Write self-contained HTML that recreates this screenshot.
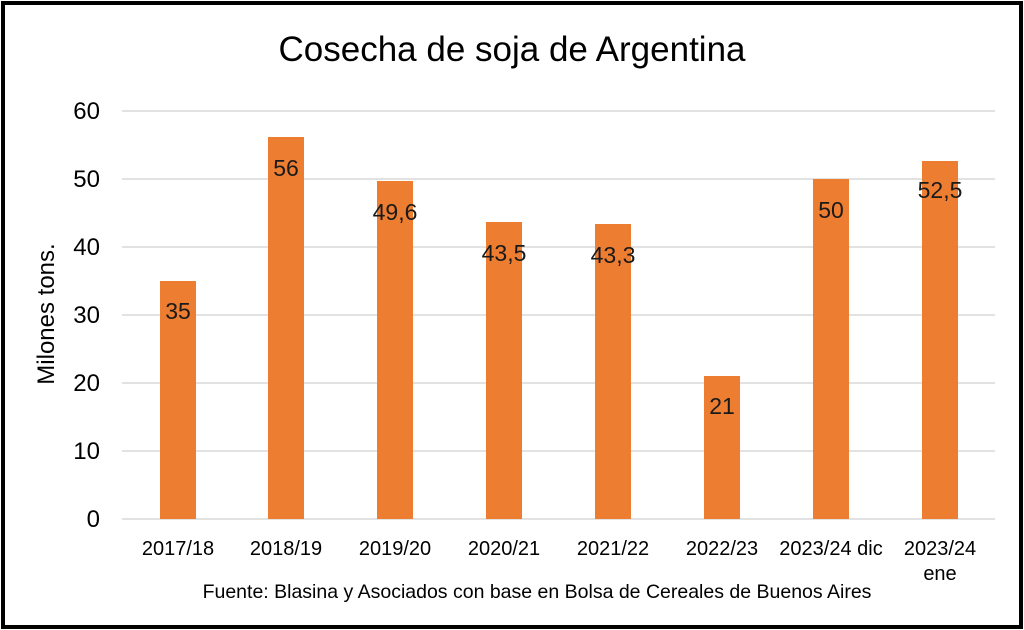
<!DOCTYPE html>
<html><head><style>
html,body{margin:0;padding:0;background:#fff;}
svg{display:block;font-family:"Liberation Sans","DejaVu Sans",sans-serif;}
</style></head><body>
<svg width="1024" height="630" viewBox="0 0 1024 630" xmlns="http://www.w3.org/2000/svg">
<rect x="0" y="0" width="1024" height="630" fill="#fff"/>
<rect x="3" y="3" width="1018" height="624" fill="none" stroke="#000" stroke-width="4"/>
<text x="512" y="61" font-size="35" text-anchor="middle" fill="#000">Cosecha de soja de Argentina</text>
<g stroke="#d9d9d9" stroke-width="1.5">
<line x1="122" y1="111" x2="995" y2="111"/>
<line x1="122" y1="179" x2="995" y2="179"/>
<line x1="122" y1="247" x2="995" y2="247"/>
<line x1="122" y1="315" x2="995" y2="315"/>
<line x1="122" y1="383" x2="995" y2="383"/>
<line x1="122" y1="451" x2="995" y2="451"/>
<line x1="122" y1="519" x2="995" y2="519"/>
</g>
<g font-size="24" text-anchor="end" fill="#000">
<text x="100" y="119">60</text><text x="100" y="187">50</text><text x="100" y="255">40</text>
<text x="100" y="323">30</text><text x="100" y="391">20</text><text x="100" y="459">10</text><text x="100" y="527">0</text>
</g>
<text transform="translate(54,314) rotate(-90)" font-size="24" text-anchor="middle">Milones tons.</text>
<g fill="#ED7D31">
<rect x="160" y="281" width="36" height="238"/>
<rect x="268" y="137" width="36" height="382"/>
<rect x="377" y="181" width="36" height="338"/>
<rect x="486" y="222" width="36" height="297"/>
<rect x="595" y="224" width="36" height="295"/>
<rect x="704" y="376" width="36" height="143"/>
<rect x="813" y="179" width="36" height="340"/>
<rect x="922" y="161" width="36" height="358"/>
</g>
<g font-size="23" text-anchor="middle" fill="#1a1a1a">
<text x="178" y="319">35</text><text x="286" y="176">56</text><text x="395" y="220">49,6</text>
<text x="504" y="261">43,5</text><text x="613" y="263">43,3</text><text x="722" y="414">21</text>
<text x="831" y="218">50</text><text x="940" y="198">52,5</text>
</g>
<g font-size="20" text-anchor="middle" fill="#000">
<text x="178" y="555">2017/18</text><text x="286" y="555">2018/19</text><text x="395" y="555">2019/20</text>
<text x="504" y="555">2020/21</text><text x="613" y="555">2021/22</text><text x="722" y="555">2022/23</text>
<text x="831" y="555">2023/24 dic</text><text x="940" y="555">2023/24</text><text x="940" y="580">ene</text>
</g>
<text x="537" y="598" font-size="19.5" text-anchor="middle" fill="#000">Fuente: Blasina y Asociados con base en Bolsa de Cereales de Buenos Aires</text>
</svg>
</body></html>
